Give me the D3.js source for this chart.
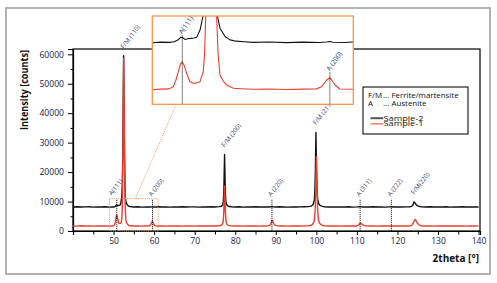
<!DOCTYPE html>
<html>
<head>
<meta charset="utf-8">
<script src="https://cdn.jsdelivr.net/npm/d3@7"></script>
<style>
  html, body { margin: 0; padding: 0; background: #fff; }
  svg { display: block; font-family: "Open Sans", sans-serif; }
</style>
</head>
<body>
<div id="chart"><svg width="497" height="283"></svg></div>
<script>
// [2theta, counts]
const sample2 = [[40,8140],[41,8210],[42,8130],[43,8190],[44,8230],[45,8120],[46,8200],[47,8150],[48,8220],[49,8110],[49.5,8190],[50,8160],[50.3,8230],[50.5,8450],[50.7,8850],[50.8,8820],[50.95,8560],[51.1,8650],[51.3,8700],[51.5,8760],[51.65,8850],[51.85,9850],[52.04,11900],[52.15,15500],[52.25,24000],[52.36,40000],[52.48,59500],[52.6,42000],[52.7,26000],[52.8,15500],[52.88,11900],[53.04,10100],[53.34,8950],[53.64,8500],[54,8320],[54.5,8240],[55,8150],[56,8210],[57,8120],[58,8190],[59,8140],[59.4,8200],[59.6,8280],[59.8,8170],[60.5,8130],[61,8210],[62,8140],[63,8200],[64,8120],[65,8190],[66,8150],[67,8230],[68,8130],[69,8180],[70,8200],[71,8120],[72,8190],[73,8150],[74,8220],[75,8160],[76,8260],[76.6,8420],[76.9,8900],[77.05,9900],[77.18,13000],[77.27,19000],[77.37,26000],[77.47,19000],[77.56,13000],[77.7,9900],[77.9,8900],[78.3,8400],[79,8230],[80,8140],[81,8210],[82,8120],[83,8190],[84,8150],[85,8220],[86,8130],[87,8180],[88,8150],[88.7,8210],[89.05,8300],[89.4,8190],[90,8140],[91,8210],[92,8160],[93,8120],[94,8200],[95,8150],[96,8190],[97,8220],[98,8280],[98.8,8450],[99.2,9000],[99.5,10500],[99.65,14000],[99.77,21000],[99.9,33500],[100.03,22000],[100.15,15000],[100.3,11000],[100.6,9200],[101,8600],[101.5,8350],[102,8230],[103,8150],[104,8200],[105,8130],[106,8190],[107,8160],[108,8220],[109,8120],[110,8180],[110.8,8270],[111.5,8160],[112,8200],[113,8130],[114,8210],[115,8150],[116,8190],[117,8120],[118,8200],[118.5,8230],[119,8150],[120,8190],[121,8130],[122,8200],[123,8220],[123.5,8380],[123.8,8800],[124.1,9900],[124.35,9500],[124.6,8950],[125,8550],[125.5,8300],[126,8200],[127,8140],[128,8210],[129,8130],[130,8190],[131,8150],[132,8220],[133,8120],[134,8180],[135,8160],[136,8210],[137,8130],[138,8190],[139,8150],[140,8170]];

const sample1 = [[40,1720],[41,1650],[42,1760],[43,1690],[44,1730],[45,1660],[46,1750],[47,1700],[48,1680],[49,1650],[49.5,1720],[50,1760],[50.25,2060],[50.4,2900],[50.55,4120],[50.7,5250],[50.79,5450],[50.9,5000],[51.05,3900],[51.25,2750],[51.45,2530],[51.65,2580],[51.85,2750],[52.04,4120],[52.12,6500],[52.19,11780],[52.28,24000],[52.38,42000],[52.5,58600],[52.62,40000],[52.72,23000],[52.84,11780],[52.93,6500],[53.04,3670],[53.24,2800],[53.44,2300],[53.84,1840],[54.3,1780],[55,1700],[56,1740],[57,1670],[58,1720],[58.8,1760],[59.11,2060],[59.41,2980],[59.61,3300],[59.91,2300],[60.2,1750],[61,1700],[62,1740],[63,1660],[64,1720],[65,1690],[66,1750],[67,1670],[68,1710],[69,1740],[70,1660],[71,1720],[72,1700],[73,1750],[74,1680],[75,1720],[76,1760],[76.6,1950],[76.9,2500],[77.05,3400],[77.18,6500],[77.28,11000],[77.38,15300],[77.48,11000],[77.58,6500],[77.72,3400],[77.9,2400],[78.3,1900],[79,1750],[80,1690],[81,1730],[82,1660],[83,1720],[84,1700],[85,1750],[86,1670],[87,1720],[88,1740],[88.5,1900],[88.8,2500],[89.05,3600],[89.25,3400],[89.5,2500],[89.9,1900],[90.5,1740],[91,1690],[92,1730],[93,1670],[94,1720],[95,1750],[96,1680],[97,1740],[98,1800],[98.8,2000],[99.2,2500],[99.5,3600],[99.7,7000],[99.85,15000],[100,25200],[100.15,15500],[100.3,7500],[100.5,4000],[100.8,2600],[101.3,2000],[102,1800],[103,1720],[104,1680],[105,1740],[106,1670],[107,1720],[108,1700],[109,1750],[110,1720],[110.4,2000],[110.7,2550],[110.9,2700],[111.2,2400],[111.6,1950],[112.2,1750],[113,1690],[114,1730],[115,1670],[116,1720],[117,1700],[118,1740],[119,1680],[120,1720],[121,1690],[122,1750],[123,1720],[123.5,1900],[123.9,2700],[124.15,3500],[124.35,3900],[124.6,3500],[124.9,2700],[125.3,2100],[125.8,1800],[126.5,1720],[127,1690],[128,1740],[129,1670],[130,1720],[131,1700],[132,1750],[133,1680],[134,1720],[135,1690],[136,1740],[137,1670],[138,1720],[139,1700],[140,1730]];

const xTicks = [50, 60, 70, 80, 90, 100, 110, 120, 130, 140];
const yTicks = [0, 10000, 20000, 30000, 40000, 50000, 60000];

const fmNames = ['F/M (110)', 'F/M (200)', 'F/M (211)', 'F/M(220)'];
const fmDeg = [52.48, 77.37, 99.9, 124.1];
const aNames = ['A(111)', 'A (200)', 'A (220)', 'A (311)', 'A (222)'];
const aDeg = [50.79, 59.6, 89.05, 110.8, 118.5];

const zoomDeg = [49, 61];
const zoomCounts = [-360, 11780];
const insetMarkTop = [9100, 4000];

const noteKeys = ['F/M', 'A'];
const noteTexts = ['Ferrite/martensite', 'Austenite'];
const seriesNames = ['Sample-2', 'Sample-1'];
const seriesColors = ['#111111', '#e8402f'];

const svg = d3.select('#chart svg');
const TEXT = '#1d2140';
const LABEL = '#34426e';
const ORANGE = '#f39552';
const A_TOP = 10600;

const X = d3.scaleLinear().domain([40, 140.35]).range([73, 480]);
const Y = d3.scaleLinear().domain([0, 61800]).range([231, 49]);

const XI = d3.scaleLinear().domain(zoomDeg).range([152.3, 353.3]);
const YI = d3.scaleLinear().domain(zoomCounts).range([104.3, 16]);

// outer frame
svg.append('rect')
  .attr('x', 6).attr('y', 8).attr('width', 484).attr('height', 266)
  .attr('fill', 'none').attr('stroke', '#b3b3b3').attr('stroke-width', 2);

// plot frame
svg.append('rect')
  .attr('x', X(40)).attr('y', Y(61800))
  .attr('width', X(140.35) - X(40)).attr('height', Y(0) - Y(61800))
  .attr('fill', 'none').attr('stroke', '#000').attr('stroke-width', 1.2);

// axes
svg.append('g').attr('transform', `translate(0,${Y(0)})`)
  .call(d3.axisBottom(X).tickValues(xTicks).tickSize(4).tickPadding(3).tickFormat(d3.format('d')));
svg.append('g').attr('transform', `translate(0,${Y(0)})`)
  .call(d3.axisBottom(X).tickValues(d3.range(45, 140, 10)).tickSize(3.5).tickFormat(''))
  .call(g => g.select('.domain').remove());
svg.append('g').attr('transform', `translate(${X(40)},0)`)
  .call(d3.axisLeft(Y).tickValues(yTicks).tickSize(5).tickPadding(4).tickFormat(d3.format('d')));
svg.append('g').attr('transform', `translate(${X(40)},0)`)
  .call(d3.axisLeft(Y).tickValues(d3.range(5000, 60000, 10000)).tickSize(2.5).tickFormat(''))
  .call(g => g.select('.domain').remove());

svg.selectAll('.tick line').attr('stroke', '#000');
svg.selectAll('.domain').attr('stroke', '#000').attr('stroke-width', 1.2);
svg.selectAll('.tick text')
  .attr('fill', TEXT)
  .style('font-size', '8.6px')
  .style('font-family', '"Open Sans", sans-serif');

// axis titles
svg.append('text')
  .attr('transform', 'translate(28,90) rotate(-90)')
  .attr('text-anchor', 'middle')
  .attr('textLength', 80).attr('lengthAdjust', 'spacingAndGlyphs')
  .attr('fill', '#111')
  .style('font-size', '10px').style('font-weight', 'bold')
  .text('Intensity [counts]');
svg.append('text')
  .attr('x', 479).attr('y', 261.5)
  .attr('text-anchor', 'end')
  .attr('fill', '#111')
  .style('font-size', '10px').style('font-weight', 'bold')
  .text('2theta [°]');

// curves
const line = d3.line().x(d => X(d[0])).y(d => Y(d[1]));
[sample2, sample1].forEach((s, i) => {
  svg.append('path').datum(s)
    .attr('d', line)
    .attr('fill', 'none')
    .attr('stroke', seriesColors[i])
    .attr('stroke-width', 1.4)
    .attr('stroke-linejoin', 'round');
});

// austenite marker lines + labels
svg.selectAll('.aline').data(aDeg).join('line')
  .attr('x1', d => X(d)).attr('x2', d => X(d))
  .attr('y1', Y(A_TOP)).attr('y2', Y(0))
  .attr('stroke', '#000').attr('stroke-width', 1).attr('stroke-dasharray', '1,1');

svg.selectAll('.alabel').data(aNames).join('text')
  .attr('transform', (d, i) => i === 0
    ? `translate(${X(aDeg[i]) - 5},${Y(A_TOP) - 4}) rotate(-52)`
    : `translate(${X(aDeg[i]) - 1},${Y(A_TOP) - 3}) rotate(-52)`)
  .attr('fill', LABEL)
  .style('font-size', '6.3px')
  .text(d => d);

// ferrite/martensite labels, above each peak top of Sample-2
const peakTop = deg => d3.max(sample2.filter(p => Math.abs(p[0] - deg) < 0.3), p => p[1]);
svg.selectAll('.fmlabel').data(fmNames).join('text')
  .attr('transform', (d, i) => `translate(${X(fmDeg[i])},${Y(peakTop(fmDeg[i])) - 7}) rotate(-52)`)
  .attr('fill', LABEL)
  .style('font-size', '6.3px')
  .text(d => d);

// zoom region marker + connector
svg.append('rect')
  .attr('x', X(zoomDeg[0])).attr('y', Y(11000))
  .attr('width', X(zoomDeg[1]) - X(zoomDeg[0])).attr('height', Y(0) - Y(11000))
  .attr('fill', 'none').attr('stroke', ORANGE).attr('stroke-width', 1)
  .attr('stroke-dasharray', '1,1.2');
svg.append('line')
  .attr('x1', X(55.4)).attr('y1', Y(11000))
  .attr('x2', XI(50.4)).attr('y2', YI(zoomCounts[0]) + 1)
  .attr('stroke', ORANGE).attr('stroke-width', 1).attr('stroke-dasharray', '1,1.2');

// inset
const inset = svg.append('g');
const insetBox = sel => sel
  .attr('x', XI(zoomDeg[0])).attr('y', YI(zoomCounts[1]))
  .attr('width', XI(zoomDeg[1]) - XI(zoomDeg[0]))
  .attr('height', YI(zoomCounts[0]) - YI(zoomCounts[1]));
inset.append('rect').call(insetBox).attr('fill', '#fff');
svg.append('clipPath').attr('id', 'clipInset').append('rect').call(insetBox);

const lineI = d3.line().x(d => XI(d[0])).y(d => YI(d[1]));
const insetInner = inset.append('g').attr('clip-path', 'url(#clipInset)');
[sample2, sample1].forEach((s, i) => {
  insetInner.append('path').datum(s.filter(p => p[0] >= 48 && p[0] <= 62))
    .attr('d', lineI)
    .attr('fill', 'none')
    .attr('stroke', seriesColors[i])
    .attr('stroke-width', 1.1)
    .attr('stroke-linejoin', 'round');
});

inset.selectAll('.ialine').data(insetMarkTop).join('line')
  .attr('x1', (d, i) => XI(aDeg[i])).attr('x2', (d, i) => XI(aDeg[i]))
  .attr('y1', d => YI(d)).attr('y2', YI(zoomCounts[0]))
  .attr('stroke', '#000').attr('stroke-width', 1).attr('stroke-dasharray', '1,1');
inset.selectAll('.ialabel').data(insetMarkTop).join('text')
  .attr('transform', (d, i) => `translate(${XI(aDeg[i])},${YI(d) - 1}) rotate(-55)`)
  .attr('fill', LABEL)
  .style('font-size', '6.8px')
  .text((d, i) => aNames[i]);

inset.append('rect').call(insetBox)
  .attr('fill', 'none').attr('stroke', ORANGE).attr('stroke-width', 1.3);

// legend
const legend = svg.append('g').attr('transform', 'translate(363,87)');
legend.append('rect')
  .attr('width', 105).attr('height', 47)
  .attr('fill', '#fff').attr('stroke', '#111').attr('stroke-width', 1.1);
noteKeys.forEach((k, i) => {
  const g = legend.append('g').attr('fill', '#111').style('font-size', '7.9px');
  g.append('text').attr('x', 5).attr('y', 10.6 + i * 8.2).text(k);
  g.append('text').attr('x', 20).attr('y', 10.6 + i * 8.2).text('...');
  g.append('text').attr('x', 28.5).attr('y', 10.6 + i * 8.2).text(noteTexts[i]);
});
seriesNames.forEach((n, i) => {
  legend.append('line')
    .attr('x1', 7.5).attr('x2', 20.3)
    .attr('y1', 31.2 + i * 5.6).attr('y2', 31.2 + i * 5.6)
    .attr('stroke', i === 0 ? '#555' : '#f06a5a')
    .attr('stroke-width', i === 0 ? 2 : 1.3);
  legend.append('text')
    .attr('x', 20.5).attr('y', 33.7 + i * 5.6)
    .attr('textLength', 40).attr('lengthAdjust', 'spacingAndGlyphs')
    .attr('fill', '#111').style('font-size', '7px')
    .text(n);
});
</script>
</body>
</html>
